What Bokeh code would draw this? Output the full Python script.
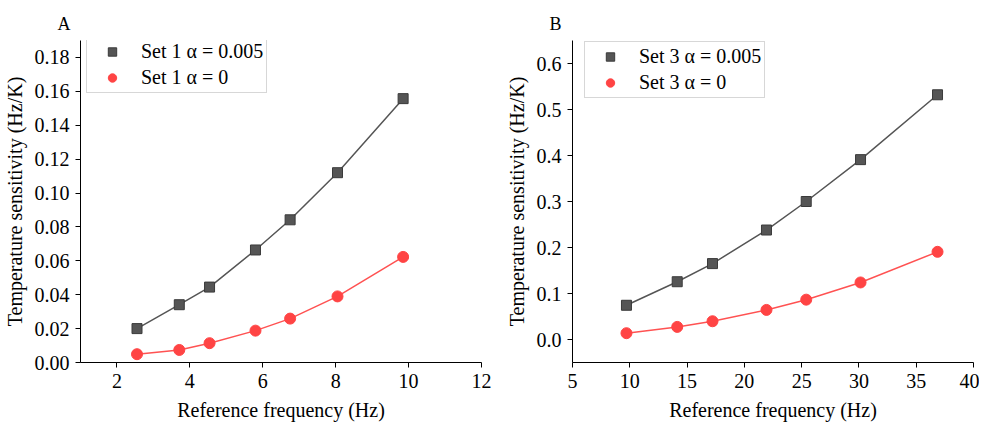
from bokeh.plotting import figure
from bokeh.layouts import row
from bokeh.models import Legend, LegendItem, Range1d, PrintfTickFormatter
from bokeh.embed import file_html
from bokeh.resources import INLINE

# Panel A data
freq_a = [2.55, 3.71, 4.54, 5.80, 6.75, 8.05, 9.85]
sens_a_005 = [0.0200, 0.0341, 0.0445, 0.0664, 0.0842, 0.1120, 0.1557]
sens_a_0 = [0.0049, 0.0074, 0.0114, 0.0188, 0.0259, 0.0390, 0.0623]

# Panel B data
freq_b = [9.71, 14.14, 17.22, 21.93, 25.40, 30.14, 36.86]
sens_b_005 = [0.0744, 0.1256, 0.165, 0.238, 0.300, 0.391, 0.532]
sens_b_0 = [0.0137, 0.0274, 0.0397, 0.0643, 0.0866, 0.124, 0.1906]

labels_a = ["Set 1 \u03b1 = 0.005", "Set 1 \u03b1 = 0"]
labels_b = ["Set 3 \u03b1 = 0.005", "Set 3 \u03b1 = 0"]

FONT = "Liberation Serif"
GRAY = "#555555"
GRAY_EDGE = "#3a3a3a"
GRAY_LINE = "#555555"
RED = "#ff4444"
RED_LINE = "#ff5252"


def make_panel(x, y1, y2, labels, xr, yr, xticks, yticks, yfmt, letter,
               bl, br, letter_off, leg_loc):
    p = figure(output_backend="svg", toolbar_location=None,
               frame_width=401, frame_height=322,
               min_border_left=bl, min_border_right=br,
               min_border_top=40, min_border_bottom=56,
               x_range=Range1d(*xr), y_range=Range1d(*yr))
    p.outline_line_color = None
    p.grid.visible = False
    p.background_fill_color = "white"
    p.border_fill_color = "white"

    p.line(x, y1, line_color=GRAY_LINE, line_width=1.5)
    s1 = p.scatter(x, y1, marker="square", size=10, fill_color=GRAY, line_color=GRAY_EDGE)
    p.line(x, y2, line_color=RED_LINE, line_width=1.5)
    s2 = p.scatter(x, y2, marker="circle", size=11, fill_color=RED, line_color=RED)

    p.xaxis.ticker = xticks
    p.yaxis.ticker = yticks
    p.xaxis.ticker.num_minor_ticks = 2
    p.yaxis.ticker.num_minor_ticks = 2
    p.yaxis.formatter = PrintfTickFormatter(format=yfmt)

    for ax in (p.xaxis[0], p.yaxis[0]):
        ax.axis_line_color = "black"
        ax.axis_line_width = 1
        ax.major_tick_line_color = "black"
        ax.minor_tick_line_color = "black"
        ax.major_tick_out = 5
        ax.major_tick_in = 0
        ax.minor_tick_out = 3
        ax.minor_tick_in = 0
        ax.major_label_text_font = FONT
        ax.major_label_text_font_size = "20px"
        ax.major_label_text_color = "black"
        ax.axis_label_text_font = FONT
        ax.axis_label_text_font_size = "20px"
        ax.axis_label_text_font_style = "normal"
        ax.axis_label_text_color = "black"
        ax.major_label_standoff = 6

    p.xaxis.axis_label = "Reference frequency (Hz)"
    p.yaxis.axis_label = "Temperature sensitivity (Hz/K)"
    p.xaxis.axis_label_standoff = 8
    p.yaxis.axis_label_standoff = 6

    legend = Legend(items=[LegendItem(label=labels[0], renderers=[s1]),
                           LegendItem(label=labels[1], renderers=[s2])],
                    location=leg_loc, margin=0, padding=3,
                    glyph_width=44, glyph_height=21, label_height=21,
                    label_width=120, label_standoff=7, spacing=3,
                    label_text_font=FONT, label_text_font_size="20px",
                    label_text_color="black",
                    border_line_color="#b0b0b0", border_line_width=1,
                    background_fill_color="white", background_fill_alpha=1)
    p.add_layout(legend, "center")

    p.title.text = letter
    p.title.align = "left"
    p.title.offset = letter_off
    p.title.text_font = FONT
    p.title.text_font_size = "18px"
    p.title.text_font_style = "normal"
    p.title.text_color = "black"
    p.title.standoff = 14
    return p


pa = make_panel(freq_a, sens_a_005, sens_a_0, labels_a, (1, 12), (0, 0.19),
                [2, 4, 6, 8, 10, 12],
                [0.0, 0.02, 0.04, 0.06, 0.08, 0.10, 0.12, 0.14, 0.16, 0.18],
                "%.2f", "A", 78, 18, -23, (6, 269))
pb = make_panel(freq_b, sens_b_005, sens_b_0, labels_b, (5, 40), (-0.05, 0.65),
                [5, 10, 15, 20, 25, 30, 35, 40],
                [0.0, 0.1, 0.2, 0.3, 0.4, 0.5, 0.6],
                "%.1f", "B", 73, 6, -23, (12, 264))

layout = row(pa, pb)
open("out.html", "w").write(file_html(layout, INLINE))
